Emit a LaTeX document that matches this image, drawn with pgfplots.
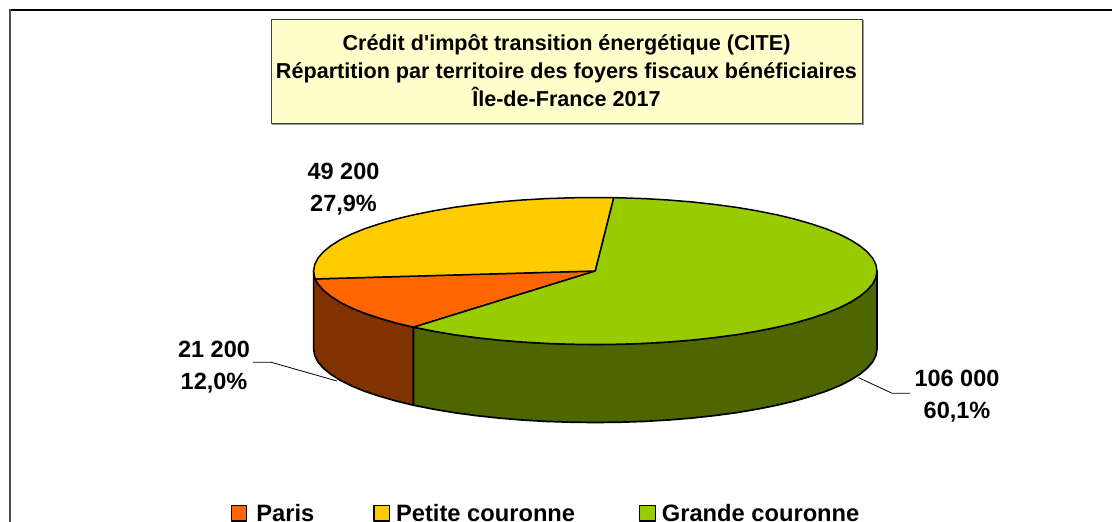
\documentclass[border=0pt]{standalone}
\usepackage{fontspec}
\setmainfont{Liberation Sans}
\usepackage{pgfplots}
\pgfplotsset{compat=1.18}
\definecolor{cparis}{HTML}{FF6600}
\definecolor{cpetite}{HTML}{FFCC00}
\definecolor{cgrande}{HTML}{99CC00}
\definecolor{dparis}{HTML}{803300}
\definecolor{dgrande}{HTML}{4D6600}
\definecolor{ctitle}{HTML}{FFFFCC}
\begin{document}
\begin{tikzpicture}[x=1pt,y=1pt]
\clip (0,0) rectangle (1112,522);
\begin{axis}[
  at={(0,0)},anchor=south west,
  width=1112pt,height=522pt,scale only axis,
  xmin=0,xmax=1112,ymin=0,ymax=522,y dir=reverse,
  hide axis,clip=false,
  legend columns=-1,
  legend cell align=left,
  legend style={at={(axis cs:230.7,514)},anchor=west,draw=none,fill=none,inner sep=0pt,outer sep=0pt,
    font=\bfseries\fontsize{23.7}{26}\selectfont,
    nodes={inner sep=0pt,outer sep=0pt},
    /tikz/column 1/.style={column sep=9pt},
    /tikz/column 2/.style={column sep=59pt},
    /tikz/column 3/.style={column sep=6pt},
    /tikz/column 4/.style={column sep=64pt},
    /tikz/column 5/.style={column sep=6pt},
  },
  legend image code/.code={\draw[#1,line width=1.2pt] (0pt,-7pt) rectangle (15.5pt,8.5pt);},
]
% side walls
\addplot[forget plot,fill=dparis,draw=black,line width=1.7pt,line join=round] coordinates {
 (313.6,271)(314.7,277.4)(315.2,278.9)(317.9,283.8)(323.2,290)(330.6,296.1)(340,302.1)(351.3,307.8)(364.5,313.2)(379.5,318.2)(396.1,323)(413.5,327.2)
 (413.5,405.2)(396.1,401)(379.5,396.2)(364.5,391.2)(351.3,385.8)(340,380.1)(330.6,374.1)(323.2,368)(317.9,361.8)(314.7,355.4)(313.6,349)
} -- cycle;
\addplot[forget plot,fill=dgrande,draw=black,line width=1.7pt,line join=round] coordinates {
 (413.5,327.2)(414.2,327.3)(433.7,331.2)(454.4,334.7)(476.3,337.6)(499,340.1)(522.4,342)(546.4,343.4)(570.7,344.2)(595.3,344.5)(619.9,344.2)(644.2,343.4)(668.2,342)(691.6,340.1)(714.3,337.6)(736.2,334.7)(756.9,331.2)(776.4,327.3)(794.5,323)(811.1,318.2)(826.1,313.2)(839.3,307.8)(850.6,302.1)(860,296.1)(867.4,290)(872.7,283.8)(875.9,277.4)(877,271)
 (877,349)(875.9,355.4)(872.7,361.8)(867.4,368)(860,374.1)(850.6,380.1)(839.3,385.8)(826.1,391.2)(811.1,396.2)(794.5,401)(776.4,405.3)(756.9,409.2)(736.2,412.7)(714.3,415.6)(691.6,418.1)(668.2,420)(644.2,421.4)(619.9,422.2)(595.3,422.5)(570.7,422.2)(546.4,421.4)(522.4,420)(499,418.1)(476.3,415.6)(454.4,412.7)(433.7,409.2)(413.5,405.2)
} -- cycle;
% top faces
\addplot[fill=cparis,draw=black,line width=1.5pt,line join=round] coordinates {
 (595.3,271)(315.2,278.9)(317.9,283.8)(323.2,290)(330.6,296.1)(340,302.1)(351.3,307.8)(364.5,313.2)(379.5,318.2)(396.1,323)(413.5,327.2)
} -- cycle;
\addlegendentry{Paris}
\addplot[fill=cpetite,draw=black,line width=1.5pt,line join=round] coordinates {
 (595.3,271)(613.8,197.7)(595.3,197.5)(570.7,197.8)(546.4,198.6)(522.4,200)(499,201.9)(476.3,204.4)(454.4,207.3)(433.7,210.8)(414.2,214.7)(396.1,219)(379.5,223.8)(364.5,228.8)(351.3,234.2)(340,239.9)(330.6,245.9)(323.2,252)(317.9,258.2)(314.7,264.6)(313.6,271)(314.7,277.4)(315.2,278.9)
} -- cycle;
\addlegendentry{Petite couronne}
\addplot[fill=cgrande,draw=black,line width=1.5pt,line join=round] coordinates {
 (595.3,271)(413.5,327.2)(414.2,327.3)(433.7,331.2)(454.4,334.7)(476.3,337.6)(499,340.1)(522.4,342)(546.4,343.4)(570.7,344.2)(595.3,344.5)(619.9,344.2)(644.2,343.4)(668.2,342)(691.6,340.1)(714.3,337.6)(736.2,334.7)(756.9,331.2)(776.4,327.3)(794.5,323)(811.1,318.2)(826.1,313.2)(839.3,307.8)(850.6,302.1)(860,296.1)(867.4,290)(872.7,283.8)(875.9,277.4)(877,271)(875.9,264.6)(872.7,258.2)(867.4,252)(860,245.9)(850.6,239.9)(839.3,234.2)(826.1,228.8)(811.1,223.8)(794.5,219)(776.4,214.7)(756.9,210.8)(736.2,207.3)(714.3,204.4)(691.6,201.9)(668.2,200)(644.2,198.6)(619.9,197.8)(613.8,197.7)
} -- cycle;
\addlegendentry{Grande couronne}
% leader lines
\addplot[forget plot,black,line width=0.8pt] coordinates {(252.8,362.3)(271.3,362.3)(336.9,381)};
\addplot[forget plot,black,line width=0.8pt] coordinates {(858.5,377.7)(892.2,393.3)(910,393.3)};
% frame
\addplot[forget plot,black,line width=1.3pt] coordinates {(10,10)(1112,10)};
\addplot[forget plot,color=black!70,line width=2.6pt] coordinates {(10,9.4)(10,522)};
% title box
\addplot[forget plot,color=black!40,line width=1pt] coordinates {(272,124)(863,124)(863,20)};
\addplot[forget plot,fill=ctitle,draw=black!75!yellow!60!black,line width=1pt] coordinates {(271,19)(862,19)(862,123)(271,123)} -- cycle;
\node[align=center,font=\bfseries\fontsize{21.6}{28.4}\selectfont] at (axis cs:566.5,70.5) {Crédit d\textquotesingle impôt transition énergétique (CITE)\\Répartition par territoire des foyers fiscaux bénéficiaires\\Île-de-France 2017};
% data labels
\node[align=center,font=\bfseries\fontsize{23.5}{32}\selectfont] at (axis cs:343.5,189) {49 200\\27,9\%};
\node[align=center,font=\bfseries\fontsize{23.5}{32}\selectfont] at (axis cs:214,367) {21 200\\12,0\%};
\node[align=center,font=\bfseries\fontsize{23.5}{32}\selectfont] at (axis cs:957,396.5) {106 000\\60,1\%};
\end{axis}
\end{tikzpicture}
\end{document}
